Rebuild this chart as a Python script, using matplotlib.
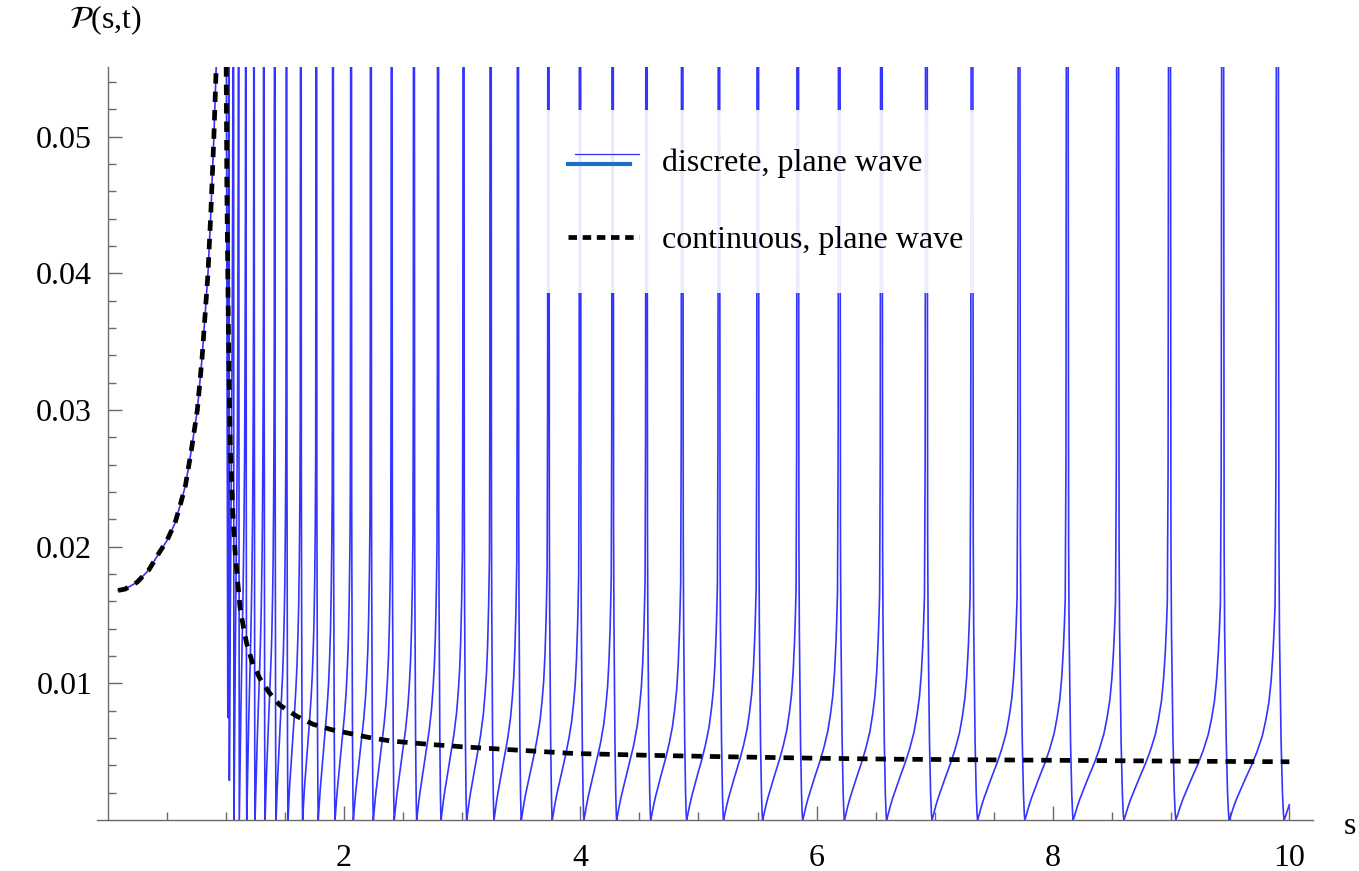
import numpy as np
import matplotlib
matplotlib.use("Agg")
import matplotlib.pyplot as plt
from matplotlib.lines import Line2D

plt.rcParams['font.family'] = ['Liberation Serif', 'DejaVu Serif']
plt.rcParams['mathtext.fontset'] = 'stix'

# continuous spectrum, branch below s = 1
cont_s_left = [0.09, 0.15, 0.25, 0.35, 0.44, 0.5, 0.57, 0.62, 0.66, 0.71,
               0.76, 0.80, 0.85, 0.875, 0.90, 0.925]
cont_p_left = [0.0168, 0.0169, 0.0174, 0.0183, 0.0196, 0.0204, 0.0217, 0.0232, 0.0245, 0.0271,
               0.030, 0.0338, 0.040, 0.0446, 0.050, 0.0565]

# continuous spectrum, branch above s = 1
cont_s_right = [1.003, 1.01, 1.02, 1.03, 1.04, 1.06, 1.079, 1.093, 1.121, 1.15,
                1.178, 1.23, 1.29, 1.37, 1.459, 1.6, 1.741, 1.9, 2.052, 2.2,
                2.39, 2.70, 3.0, 3.3, 3.94, 4.6, 5.29, 6.0, 6.65, 7.5,
                8.5, 9.2, 10.0]
cont_p_right = [0.0565, 0.046, 0.038, 0.0315, 0.027, 0.0225, 0.0197, 0.01825, 0.01557, 0.0141,
                0.01289, 0.0114, 0.01034, 0.0093, 0.0084, 0.0076, 0.0070, 0.0066, 0.00633, 0.00606,
                0.00579, 0.00555, 0.00536, 0.0052, 0.00487, 0.00473, 0.00462, 0.00452, 0.00445, 0.0044,
                0.00434, 0.0043, 0.00426]

# zeros of the discrete spectrum (s > 1) and the lowest value reached at each one
dip_s = [1.017, 1.030, 1.070, 1.115, 1.178, 1.248, 1.333, 1.426, 1.527, 1.651,
         1.783, 1.925, 2.080, 2.249, 2.426, 2.616, 2.822, 3.039, 3.270, 3.501,
         3.763, 4.031, 4.308, 4.596, 4.900, 5.212, 5.543, 5.882, 6.235, 6.592,
         6.976, 7.362, 7.762, 8.171, 8.600, 9.040, 9.491, 9.956]
dip_floor = [0.0075, 0.0029] + [0.0] * (len(dip_s) - 2)

# one period of the discrete curve relative to the continuous one
shape_phase = [0, 0.02, 0.06, 0.12, 0.2, 0.3, 0.4, 0.5, 0.6, 0.66, 0.72, 0.76, 0.79,
               0.81, 0.835, 0.85, 0.86, 0.877, 0.894, 0.903, 0.912, 0.94, 0.965, 0.985, 1.0]
shape_ratio = [0, 0.05, 0.17, 0.33, 0.5, 0.72, 0.92, 1.15, 1.43, 1.68, 2.0, 2.35, 2.75,
               3.1, 3.7, 6.0, 15, 40, 15, 5.0, 3.4, 1.5, 0.55, 0.12, 0]

s_end = 10.0
y_top = 0.0551

xtick_major = [2, 4, 6, 8, 10]
xtick_labels = ['2', '4', '6', '8', '10']
ytick_major = [0.01, 0.02, 0.03, 0.04, 0.05]
ytick_labels = ['0.01', '0.02', '0.03', '0.04', '0.05']

legend_labels = ['discrete, plane wave', 'continuous, plane wave']

blue = '#3434ff'
fs = 23

# build the discrete curve period by period
dips = np.array(dip_s)
gaps = np.diff(dips)
log_right = np.log(cont_p_right)
disc_s = [np.array([1.0, dips[0]])]
disc_p = [np.array([0.08, dip_floor[0]])]
for k in range(len(dips)):
    width = gaps[k] if k < len(gaps) else gaps[-1]
    right = min(dips[k] + width, s_end)
    ss = np.linspace(dips[k], right, 800)
    ratio = np.interp((ss - dips[k]) / width, shape_phase, shape_ratio)
    env = np.exp(np.interp(ss, cont_s_right, log_right))
    pp = np.maximum(env * ratio, dip_floor[k])
    disc_s.append(ss)
    disc_p.append(pp)
disc_s = np.concatenate(disc_s)
disc_p = np.minimum(np.concatenate(disc_p), 0.08)

fig = plt.figure(figsize=(13.59, 8.71), dpi=100)
ax = fig.add_axes([97 / 1359, 1 - 820 / 871, 1216 / 1359, 753 / 871])

ax.plot(cont_s_left, cont_p_left, color=blue, lw=1.2, zorder=2)
ax.plot(disc_s, disc_p, color=blue, lw=1.2, zorder=2)
ax.plot(cont_s_left, cont_p_left, color='black', lw=3.4, dashes=(2.2, 1.7),
        dash_capstyle='butt', zorder=3)
ax.plot(cont_s_right, cont_p_right, color='black', lw=3.4, dashes=(2.2, 1.7),
        dash_capstyle='butt', zorder=3)

ax.set_xlim(-0.089, 10.2)
ax.set_ylim(0, y_top)

# axes cross at the origin
for side in ['top', 'right']:
    ax.spines[side].set_visible(False)
ax.spines['left'].set_position(('data', 0))
for side in ['left', 'bottom']:
    ax.spines[side].set_color('#6a6a6a')
    ax.spines[side].set_linewidth(1.0)

ax.set_xticks(xtick_major)
ax.set_xticklabels(xtick_labels)
ax.set_xticks(np.arange(0.5, 10.01, 0.5), minor=True)
ax.set_yticks(ytick_major)
ax.set_yticklabels(ytick_labels)
ax.set_yticks(np.arange(0.002, 0.0551, 0.002), minor=True)
ax.tick_params(which='both', direction='in', color='#6a6a6a', width=1.0,
               labelsize=fs, labelcolor='black')
ax.tick_params(which='major', length=10)
ax.tick_params(which='minor', length=6)
ax.tick_params(axis='x', which='major', pad=17)
ax.tick_params(axis='y', which='major', pad=11)

ax.set_xlabel('s', fontsize=fs, rotation=0)
ax.xaxis.set_label_coords(1.03, 0.01)
ax.set_ylabel(r'$\mathcal{P}$(s,t)', fontsize=fs, rotation=0)
ax.yaxis.set_label_coords(0.007, 1.04)


class TwoLineHandler:
    def legend_artist(self, legend, orig_handle, fontsize, handlebox):
        x0, y0 = -handlebox.xdescent, -handlebox.ydescent
        w, h = handlebox.width, handlebox.height
        tr = handlebox.get_transform()
        thin = Line2D([x0 + 0.1 * w, x0 + w], [y0 + 0.75 * h] * 2, color=blue, lw=0.9, transform=tr)
        thick = Line2D([x0, x0 + 0.88 * w], [y0 + 0.3 * h] * 2, color='#1f6fc4', lw=3.0, transform=tr)
        handlebox.add_artist(thin)
        handlebox.add_artist(thick)
        return thick


disc_proxy = Line2D([], [], color=blue)
cont_proxy = Line2D([], [], color='black', lw=3.4, dashes=(1.8, 1.2), dash_capstyle='butt')
leg = ax.legend([disc_proxy, cont_proxy], legend_labels,
                handler_map={disc_proxy: TwoLineHandler()},
                loc='upper left', bbox_to_anchor=(0.356, 0.943), borderaxespad=0,
                fontsize=fs, handlelength=2.2, handletextpad=0.75, labelspacing=1.5,
                borderpad=1.2, frameon=True, fancybox=False, framealpha=0.9)
leg.get_frame().set_edgecolor('none')
leg.set_zorder(5)

fig.savefig('out.png', dpi=100)
